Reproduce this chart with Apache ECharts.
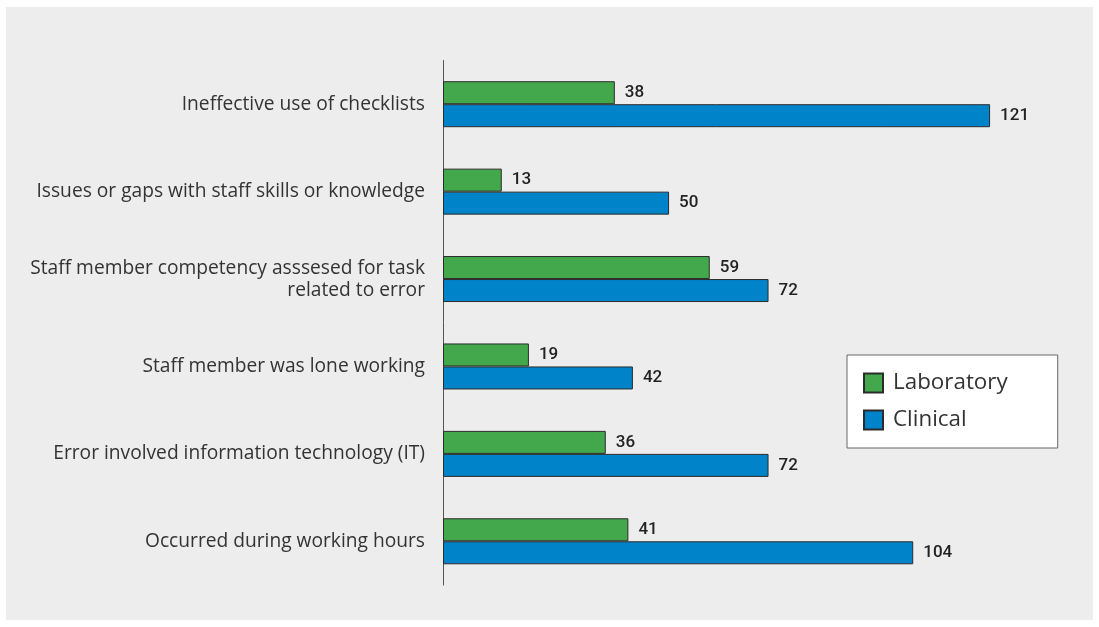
<!DOCTYPE html>
<html>
<head>
<meta charset="utf-8">
<script src="https://cdn.jsdelivr.net/npm/echarts@6/dist/echarts.min.js"></script>
<style>
  html, body { margin: 0; padding: 0; background: #ffffff; }
  #wrap { position: absolute; left: 6px; top: 7px; width: 1087px; height: 613px; background: #ededed; }
  #chart { position: absolute; left: 0; top: 0; width: 1099px; height: 627px; }
</style>
</head>
<body>
<div id="wrap"></div>
<div id="chart"></div>
<script>
// Contributing factors, top to bottom
const categories = [
  'Ineffective use of checklists',
  'Issues or gaps with staff skills or knowledge',
  'Staff member competency asssesed for task\nrelated to error',
  'Staff member was lone working',
  'Error involved information technology (IT)',
  'Occurred during working hours'
];
const laboratory = [38, 13, 59, 19, 36, 41];
const clinical = [121, 50, 72, 42, 72, 104];

const chart = echarts.init(document.getElementById('chart'));
const labelStyle = {
  show: true,
  position: 'right',
  distance: 10,
  color: '#222',
  fontSize: 17,
  fontWeight: 500,
  fontFamily: 'Roboto, Liberation Sans, Arial, sans-serif'
};
chart.setOption({
  backgroundColor: 'transparent',
  animation: false,
  grid: { left: 443, top: 60.5, width: 633, height: 524.5, containLabel: false },
  xAxis: {
    type: 'value', min: 0, max: 140,
    show: false
  },
  yAxis: {
    type: 'category',
    data: categories,
    inverse: true,
    axisLine: { show: true, lineStyle: { color: '#555', width: 1 } },
    axisTick: { show: false },
    axisLabel: {
      margin: 18,
      color: '#333',
      fontSize: 19.2,
      lineHeight: 22,
      align: 'right',
      fontFamily: 'Open Sans, Liberation Sans, Arial, sans-serif'
    }
  },
  legend: {
    orient: 'vertical',
    left: 847, top: 355,
    backgroundColor: '#ffffff',
    borderColor: '#666',
    borderWidth: 1,
    padding: [17, 50, 17, 16],
    itemWidth: 19, itemHeight: 19, itemGap: 15,
    icon: 'rect',
    textStyle: { fontSize: 22.4, color: '#333', fontFamily: 'Open Sans, Liberation Sans, Arial, sans-serif', padding: [0, 0, 0, 5] },
    data: ['Laboratory', 'Clinical']
  },
  series: [
    {
      name: 'Laboratory', type: 'bar', data: laboratory,
      barWidth: 23, barGap: '0%',
      itemStyle: { color: '#43a84b', borderColor: '#2b2b2b', borderWidth: 1 },
      label: labelStyle
    },
    {
      name: 'Clinical', type: 'bar', data: clinical,
      barWidth: 23, barGap: '0%',
      itemStyle: { color: '#0083c8', borderColor: '#2b2b2b', borderWidth: 1 },
      label: labelStyle
    }
  ]
});
</script>
</body>
</html>
